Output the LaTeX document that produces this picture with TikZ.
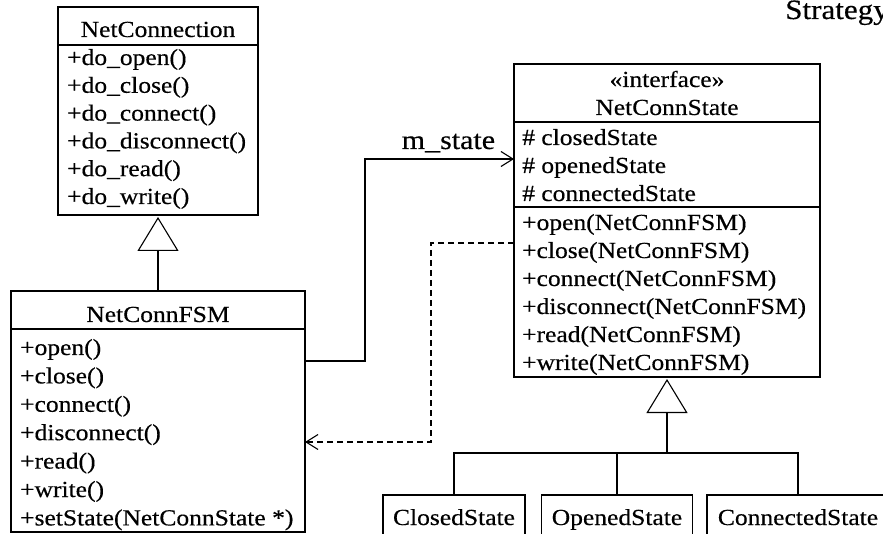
\documentclass[tikz,border=0pt]{standalone}
\usepackage{fontspec}
\setmainfont{Liberation Serif}[FakeStretch=1.11, FakeBold=0.4]
\usetikzlibrary{arrows.meta}

\begin{document}
\begin{tikzpicture}[x=1pt,y=-1pt,
  box/.style={draw, line width=1.1pt, inner sep=0pt, outer sep=0pt},
  rule/.style={line width=1.1pt},
  txt/.style={anchor=base west, inner sep=0pt, font=\fontsize{23}{27}\selectfont},
  ttl/.style={anchor=base, inner sep=0pt, font=\fontsize{23}{27}\selectfont},
  big/.style={inner sep=0pt, font=\fontsize{27}{32}\selectfont},
  inherit/.style={line width=1.1pt, -{Triangle[open, length=34pt, width=41pt, line width=1.1pt]}, shorten >=2pt},
  assoc/.style={line width=1.1pt, -{Straight Barb[length=12pt, width=15pt, line width=1.1pt]}},
  dep/.style={line width=1.1pt, dash pattern=on 6pt off 4pt, -{Straight Barb[length=12pt, width=15pt, line width=1.1pt, sep=0pt]}}
]
\useasboundingbox (0,0) rectangle (883,534);
\clip (0,0) rectangle (883,534);

% class boxes
\node[box, minimum width=200pt, minimum height=208pt] (conn)  at (158,111)   {};
\node[box, minimum width=294pt, minimum height=241pt] (fsm)   at (158,411.5) {};
\node[box, minimum width=306pt, minimum height=313pt] (state) at (667,220.5) {};
\node[box, minimum width=142pt, minimum height=50pt]  (closed)    at (454,520) {};
\node[box, minimum width=151pt, minimum height=50pt]  (opened)    at (617,520) {};
\node[box, minimum width=182pt, minimum height=50pt]  (connected) at (798,520) {};

% compartment rules
\draw[rule] ([yshift=-38pt]conn.north west)  -- ([yshift=-38pt]conn.north east);
\draw[rule] ([yshift=-38pt]fsm.north west)   -- ([yshift=-38pt]fsm.north east);
\draw[rule] ([yshift=-58pt]state.north west) -- ([yshift=-58pt]state.north east);
\draw[rule] ([yshift=-143pt]state.north west) -- ([yshift=-143pt]state.north east);

% NetConnection
\node[ttl] (conn-title) at (158,37) {NetConnection};
\foreach \t [count=\i from 0] in {+do\_open(), +do\_close(), +do\_connect(),
    +do\_disconnect(), +do\_read(), +do\_write()}
  \node[txt] (conn-op-\i) at (67,65+27.8*\i) {\t};

% NetConnFSM
\node[ttl] (fsm-title) at (158,322) {NetConnFSM};
\foreach \t [count=\i from 0] in {+open(), +close(), +connect(), +disconnect(),
    +read(), +write(), +setState(NetConnState *)}
  \node[txt] (fsm-op-\i) at (20,355+28.4*\i) {\t};

% NetConnState
\node[ttl] (state-stereo) at (667,87) {«interface»};
\node[ttl] (state-title) at (667,115) {NetConnState};
\foreach \t [count=\i from 0] in {\# closedState, \# openedState, \# connectedState}
  \node[txt] (state-attr-\i) at (522,145+28*\i) {\t};
\foreach \t [count=\i from 0] in {+open(NetConnFSM), +close(NetConnFSM),
    +connect(NetConnFSM), +disconnect(NetConnFSM), +read(NetConnFSM), +write(NetConnFSM)}
  \node[txt] (state-op-\i) at (522,230+28*\i) {\t};

% concrete states
\node[ttl] (closed-title)    at (454,525) {ClosedState};
\node[ttl] (opened-title)    at (617,525) {OpenedState};
\node[ttl] (connected-title) at (798,525) {ConnectedState};

% inheritance NetConnFSM -> NetConnection
\draw[inherit] (fsm.north) -- (conn.south);

% inheritance of the concrete states
\coordinate (hub) at ([yshift=-76pt]state.south);
\draw[inherit] (hub) -- (state.south);
\draw[rule] (closed.north) |- (hub) -| (connected.north);
\draw[rule] (opened.north) -- (opened.north |- hub);

% association m_state
\draw[assoc] ([yshift=-70pt]fsm.north east) -- ++(60,0) |- ([yshift=-95pt]state.north west)
  node[big, pos=0.78, anchor=base, yshift=10pt] (mstate) {m\_state};

% dependency back to NetConnFSM
\draw[dep] ([yshift=-179pt]state.north west) -- ++(-83,0) |- ([yshift=-151pt]fsm.north east);

% heading
\node[big, anchor=base west, font=\fontsize{28}{32}\selectfont] (heading) at (785,19) {Strategy};
\end{tikzpicture}
\end{document}
